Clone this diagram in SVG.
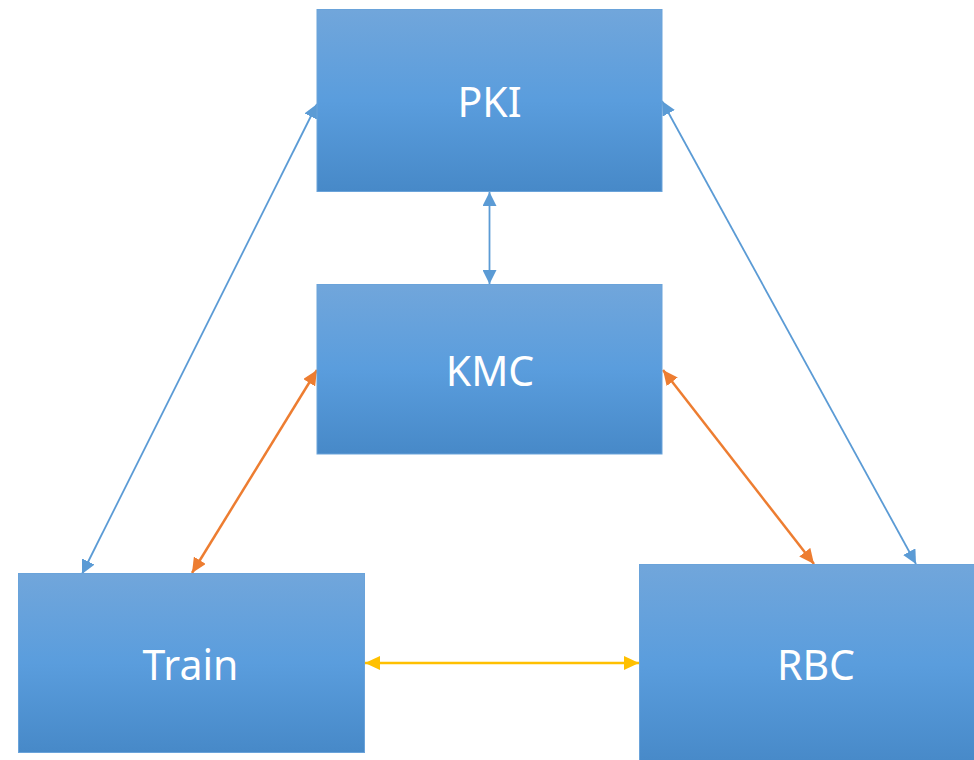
<svg xmlns="http://www.w3.org/2000/svg" width="974" height="760" viewBox="0 0 974 760">
<style>
.box{fill:url(#g);stroke:#6aa3da;stroke-width:1}
.lbl{font-family:"Noto Sans","Open Sans","DejaVu Sans",sans-serif;font-size:41px;fill:#ffffff;text-anchor:middle}
.c{fill:none}
.blue{stroke:#5b9bd5;stroke-width:1.8;marker-start:url(#ab);marker-end:url(#ab)}
.orange{stroke:#ed7d31;stroke-width:2.5;marker-start:url(#ao);marker-end:url(#ao)}
.yellow{stroke:#ffc000;stroke-width:2.4;marker-start:url(#ay);marker-end:url(#ay)}
</style>
<defs>
<linearGradient id="g" x1="0" y1="0" x2="0" y2="1">
<stop offset="0" stop-color="#71a6db"/>
<stop offset="0.5" stop-color="#5a9ddd"/>
<stop offset="1" stop-color="#4789c8"/>
</linearGradient>
<marker id="ab" viewBox="0 0 14 14" refX="14" refY="7" markerWidth="14" markerHeight="14" markerUnits="userSpaceOnUse" orient="auto-start-reverse"><path d="M0,0 L14,7 L0,14 Z" fill="#5b9bd5"/></marker>
<marker id="ao" viewBox="0 0 15 14" refX="15" refY="7" markerWidth="15" markerHeight="14" markerUnits="userSpaceOnUse" orient="auto-start-reverse"><path d="M0,0 L15,7 L0,14 Z" fill="#ed7d31"/></marker>
<marker id="ay" viewBox="0 0 15 14" refX="15" refY="7" markerWidth="15" markerHeight="14" markerUnits="userSpaceOnUse" orient="auto-start-reverse"><path d="M0,0 L15,7 L0,14 Z" fill="#ffc000"/></marker>
</defs>
<g id="connectors">
<line class="c blue" x1="82" y1="574" x2="317" y2="104"/>
<line class="c blue" x1="662" y1="101" x2="916" y2="564"/>
<line class="c blue" x1="489.5" y1="192" x2="489.5" y2="284"/>
<line class="c orange" x1="192" y1="573" x2="317" y2="370"/>
<line class="c orange" x1="663" y1="370" x2="814" y2="564"/>
<line class="c yellow" x1="365" y1="663" x2="639" y2="663"/>
</g>
<g id="pki"><rect class="box" x="317" y="9.5" width="345" height="182"/><text class="lbl" x="489.5" y="116.5">PKI</text></g>
<g id="kmc"><rect class="box" x="317" y="284.5" width="345" height="169.5"/><text class="lbl" x="490" y="386">KMC</text></g>
<g id="train"><rect class="box" x="18.5" y="573.5" width="346" height="179"/><text class="lbl" x="190.5" y="680">Train</text></g>
<g id="rbc"><rect class="box" x="639.5" y="564.5" width="340" height="200"/><text class="lbl" x="816" y="680">RBC</text></g>
</svg>
